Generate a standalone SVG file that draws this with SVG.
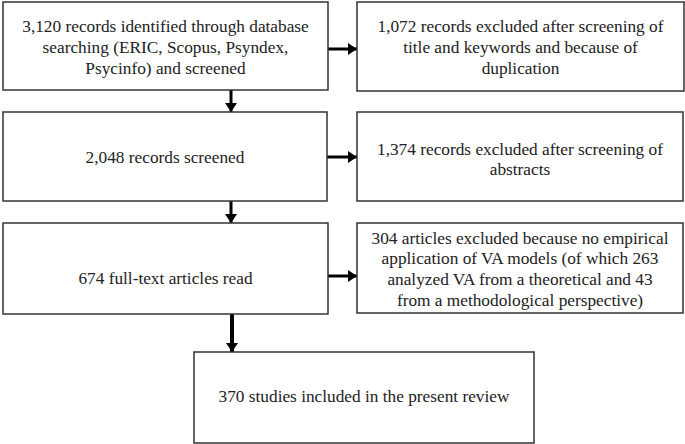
<svg xmlns="http://www.w3.org/2000/svg" width="685" height="444" viewBox="0 0 685 444">
<style>
.box{fill:#fff;stroke:#333;stroke-width:1.5}
.c{stroke:#000;stroke-width:3;fill:none}
</style>
<defs>
<marker id="ah" markerUnits="userSpaceOnUse" markerWidth="10" markerHeight="12" refX="9" refY="6" orient="auto">
<path d="M0,0 L9,6 L0,12 Z" fill="#000"/>
</marker>
</defs>
<rect width="685" height="444" fill="#fff"/>
<g id="connectors">
<line class="c" x1="328" y1="49" x2="357" y2="49" marker-end="url(#ah)"/>
<line class="c" x1="327" y1="157" x2="357" y2="157" marker-end="url(#ah)"/>
<line class="c" x1="328" y1="276" x2="357" y2="276" marker-end="url(#ah)"/>
<line class="c" x1="231" y1="90" x2="231" y2="112" marker-end="url(#ah)"/>
<line class="c" x1="231" y1="201" x2="231" y2="223" marker-end="url(#ah)"/>
<line class="c" x1="232" y1="314" x2="232" y2="352" style="stroke-width:4" marker-end="url(#ah)"/>
</g>
<g id="n1">
<rect class="box" x="3" y="2" width="325" height="88"/>
<text x="165.5" y="31.5" font-family="Liberation Serif" font-size="17.3" fill="#222" text-anchor="middle">3,120 records identified through database</text>
<text x="165.5" y="52.8" font-family="Liberation Serif" font-size="17.3" fill="#222" text-anchor="middle">searching (ERIC, Scopus, Psyndex,</text>
<text x="165.5" y="74" font-family="Liberation Serif" font-size="17.3" fill="#222" text-anchor="middle">Psycinfo) and screened</text>
</g>
<g id="e1">
<rect class="box" x="357" y="2" width="327" height="89"/>
<text x="520.5" y="31.5" font-family="Liberation Serif" font-size="17.3" fill="#222" text-anchor="middle">1,072 records excluded after screening of</text>
<text x="520.5" y="52.8" font-family="Liberation Serif" font-size="17.3" fill="#222" text-anchor="middle">title and keywords and because of</text>
<text x="520.5" y="74" font-family="Liberation Serif" font-size="17.3" fill="#222" text-anchor="middle">duplication</text>
</g>
<g id="n2">
<rect class="box" x="3" y="112" width="324" height="89"/>
<text x="165" y="163" font-family="Liberation Serif" font-size="17.3" fill="#222" text-anchor="middle">2,048 records screened</text>
</g>
<g id="e2">
<rect class="box" x="357" y="112" width="326" height="89"/>
<text x="520" y="154.5" font-family="Liberation Serif" font-size="17.3" fill="#222" text-anchor="middle">1,374 records excluded after screening of</text>
<text x="520" y="175" font-family="Liberation Serif" font-size="17.3" fill="#222" text-anchor="middle">abstracts</text>
</g>
<g id="n3">
<rect class="box" x="3" y="223" width="325" height="91"/>
<text x="165.5" y="284" font-family="Liberation Serif" font-size="17.3" fill="#222" text-anchor="middle">674 full-text articles read</text>
</g>
<g id="e3">
<rect class="box" x="357" y="223" width="326" height="90"/>
<text x="520" y="243.5" font-family="Liberation Serif" font-size="17.3" fill="#222" text-anchor="middle">304 articles excluded because no empirical</text>
<text x="520" y="264.2" font-family="Liberation Serif" font-size="17.3" fill="#222" text-anchor="middle">application of VA models (of which 263</text>
<text x="520" y="284.9" font-family="Liberation Serif" font-size="17.3" fill="#222" text-anchor="middle">analyzed VA from a theoretical and 43</text>
<text x="520" y="305.6" font-family="Liberation Serif" font-size="17.3" fill="#222" text-anchor="middle">from a methodological perspective)</text>
</g>
<g id="n4">
<rect class="box" x="194" y="352" width="340" height="91"/>
<text x="364" y="402" font-family="Liberation Serif" font-size="17.3" fill="#222" text-anchor="middle">370 studies included in the present review</text>
</g>
</svg>
